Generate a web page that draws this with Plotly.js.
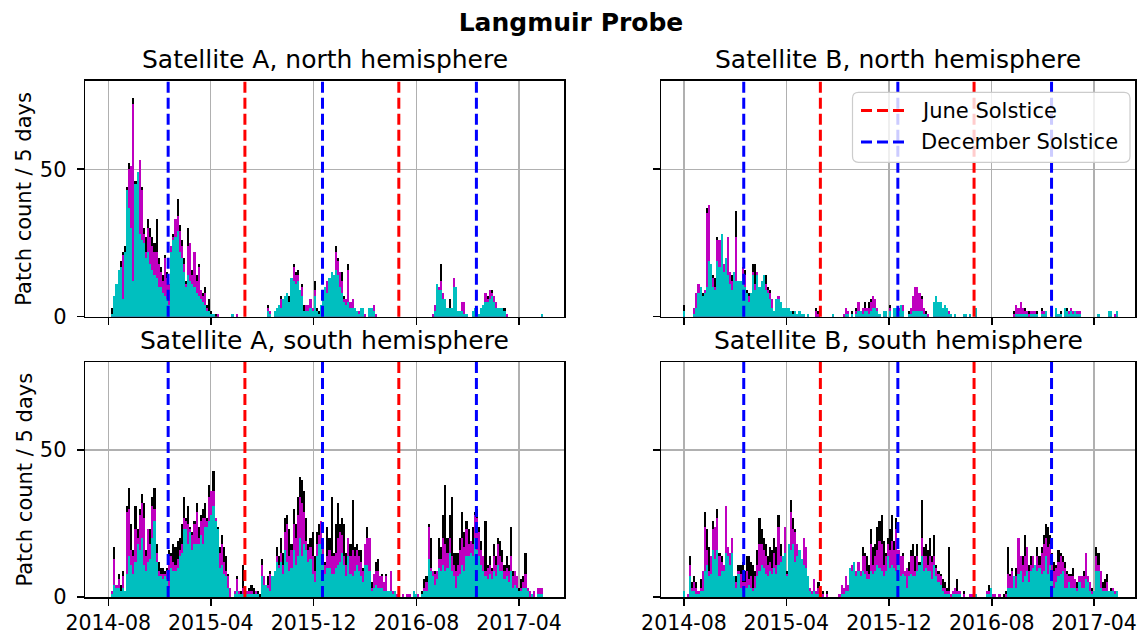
<!DOCTYPE html>
<html>
<head>
<meta charset="utf-8">
<script src="https://cdn.plot.ly/plotly-3.0.1.min.js"></script>
<style>html,body{margin:0;padding:0;background:#fff;}#chart{width:1142px;height:635px;}</style>
</head>
<body>
<div id="chart"></div>
<script>
// ---- data: patch counts per 5-day bin, bins starting 2014-07-29 ----
const binStart = '2014-07-29';
const binDays = 5;

const aNorthBlack = [
0,0,3,7,11,16,19,22,24,44,
52,51,74,46,49,53,44,30,27,33,
30,27,25,33,20,17,14,21,15,11,
24,28,33,40,31,26,20,12,30,25,
16,22,14,18,9,8,10,4,6,2,
1,1,1,0,0,0,0,0,0,1,
0,1,0,0,0,0,0,0,0,0,
0,0,0,0,0,0,4,2,0,2,
3,4,7,6,7,8,7,13,18,15,
16,9,11,4,4,4,6,3,12,3,
2,4,9,10,12,13,15,14,24,20,
15,15,7,6,18,5,6,3,2,2,
3,3,1,0,3,3,4,1,0,0,
0,0,0,0,0,0,0,0,0,0,
0,0,0,0,0,0,0,0,0,0,
0,0,0,0,1,4,11,10,18,8,
6,3,6,3,13,10,2,2,5,5,
1,0,0,2,3,3,1,3,4,8,
7,9,9,7,5,3,3,3,3,1,
0,0,0,0,0,0,0,0,0,0,
0,0,0,0,0,0,1];
const aNorthMagenta = [
0,0,1,7,11,16,17,21,22,43,
50,51,72,45,49,53,43,28,22,30,
27,24,22,22,18,15,12,20,13,11,
24,27,33,34,29,24,18,11,24,25,
14,22,12,17,9,7,8,3,2,1,
1,0,1,0,0,0,0,0,0,1,
0,1,0,0,0,0,0,0,0,0,
0,0,0,0,0,0,3,2,0,2,
3,4,6,6,7,8,5,13,17,14,
14,9,10,2,4,4,6,3,9,2,
1,4,9,10,12,13,15,14,22,19,
15,12,6,6,16,5,6,3,2,2,
3,3,1,0,3,3,4,1,0,0,
0,0,0,0,0,0,0,0,0,0,
0,0,0,0,0,0,0,0,0,0,
0,0,0,0,1,4,11,10,12,8,
6,3,3,3,13,10,2,2,5,5,
1,0,0,2,3,3,1,3,4,8,
6,9,8,7,5,3,3,3,2,1,
0,0,0,0,0,0,0,0,0,0,
0,0,0,0,0,0,1];
const aNorthCyan = [
0,0,1,7,11,16,17,6,22,43,
37,30,12,45,49,28,26,25,20,22,
18,16,14,13,10,10,8,7,6,4,
22,26,27,29,22,20,15,10,14,12,
11,10,8,7,6,5,4,2,2,1,
1,0,0,0,0,0,0,0,0,1,
0,0,0,0,0,0,0,0,0,0,
0,0,0,0,0,0,2,1,0,2,
3,4,3,6,7,8,5,13,12,11,
12,9,7,2,2,2,3,2,7,2,
1,4,6,10,8,13,15,14,16,14,
10,8,5,4,5,3,3,3,2,1,
3,3,0,0,3,3,2,0,0,0,
0,0,0,0,0,0,0,0,0,0,
0,0,0,0,0,0,0,0,0,0,
0,0,0,0,0,2,11,9,9,6,
6,3,3,3,10,10,2,2,2,1,
1,0,0,2,3,3,1,3,4,5,
5,6,7,5,3,3,3,3,2,0,
0,0,0,0,0,0,0,0,0,0,
0,0,0,0,0,0,1];

const bNorthBlack = [
4,0,0,0,0,3,8,11,10,8,
9,37,38,18,14,13,27,26,28,18,
20,27,15,14,15,36,12,12,17,16,
9,8,8,18,18,15,10,12,14,14,
10,9,6,2,6,7,5,3,3,3,
3,2,2,2,1,2,1,1,0,1,
0,0,0,3,2,0,0,0,0,0,
0,1,0,0,0,0,1,3,2,0,
2,0,3,5,2,3,5,3,5,6,
7,6,3,1,0,2,2,0,4,0,
3,3,3,4,4,0,0,2,3,7,
10,10,8,7,3,2,1,0,0,5,
7,5,5,3,4,3,2,1,0,1,
0,0,0,1,1,0,1,0,0,3,
0,0,0,0,0,0,0,0,0,0,
0,0,0,0,0,0,0,2,4,3,
5,3,3,2,2,2,2,2,2,0,
3,2,2,0,0,2,0,3,1,2,
0,3,3,2,3,2,2,2,2,0,
0,0,0,0,0,0,0,1,0,0,
0,0,2,2,0,1,2];
const bNorthMagenta = [
2,0,0,0,0,3,8,11,10,7,
9,35,38,18,13,10,26,26,28,18,
20,27,15,12,15,27,12,12,17,14,
8,7,8,15,11,15,10,12,14,11,
9,8,6,2,6,7,5,3,3,3,
3,2,1,2,1,2,1,1,0,1,
0,0,0,2,1,0,0,0,0,0,
0,1,0,0,0,0,1,3,2,0,
1,0,2,5,2,3,3,3,3,5,
7,6,3,1,0,2,2,0,3,0,
3,3,3,4,4,0,0,1,3,7,
10,10,8,6,3,1,1,0,0,5,
7,5,5,3,4,3,2,1,0,1,
0,0,0,1,1,0,1,0,0,3,
0,0,0,0,0,0,0,0,0,0,
0,0,0,0,0,0,0,1,4,3,
5,3,2,2,1,2,2,2,1,0,
2,2,2,0,0,2,0,3,1,1,
0,3,2,2,3,2,2,2,2,0,
0,0,0,0,0,0,0,1,0,0,
0,0,2,2,0,1,2];
const bNorthCyan = [
2,0,0,0,0,1,3,8,10,7,
8,10,19,18,10,9,19,17,28,15,
20,14,11,9,15,12,12,12,13,10,
8,5,8,14,9,14,10,12,14,9,
8,6,3,2,6,6,5,3,3,3,
3,2,1,2,1,2,1,1,0,1,
0,0,0,0,0,0,0,0,0,0,
0,1,0,0,0,0,0,1,1,0,
1,0,1,2,2,1,2,2,1,2,
3,3,2,1,0,2,2,0,2,0,
3,3,2,4,2,0,0,1,1,2,
2,2,2,2,1,1,0,0,0,5,
7,5,5,3,4,3,1,1,0,1,
0,0,0,1,1,0,1,0,0,3,
0,0,0,0,0,0,0,0,0,0,
0,0,0,0,0,0,0,0,1,1,
1,1,1,1,0,1,1,1,1,0,
1,1,2,0,0,2,0,3,1,1,
0,3,2,1,2,1,2,1,1,0,
0,0,0,0,0,0,0,1,0,0,
0,0,2,2,0,0,2];

const aSouthBlack = [
0,0,2,17,4,8,4,9,2,31,
37,25,16,31,23,30,35,32,16,23,
23,34,37,18,12,10,10,9,10,16,
15,18,17,19,20,25,34,27,31,24,
22,26,32,24,28,30,32,27,38,36,
43,27,24,17,21,17,14,8,3,0,
2,7,2,2,11,3,2,3,4,3,
2,2,1,13,7,4,7,9,7,9,
17,14,20,15,27,28,23,18,30,25,
34,41,40,36,27,18,20,22,14,22,
25,26,18,12,24,20,34,15,25,32,
25,27,25,15,20,18,33,17,18,16,
16,10,18,24,20,5,8,12,13,7,
8,5,8,2,9,2,2,1,1,0,
1,0,1,1,0,2,1,1,0,2,
6,7,25,20,9,9,9,20,17,28,
38,20,28,34,15,15,15,20,29,22,
26,23,19,24,29,30,24,19,14,26,
11,14,10,18,14,20,19,16,11,14,
11,24,9,9,7,3,6,7,15,3,
2,1,2,0,3,3,3];
const aSouthMagenta = [
0,0,2,13,4,6,2,7,2,29,
30,16,14,23,20,28,32,27,14,23,
18,31,30,15,9,8,8,8,9,14,
14,12,11,13,16,18,27,26,25,23,
21,25,29,20,26,27,27,26,34,36,
36,27,23,15,18,12,9,7,3,0,
2,6,2,1,3,3,2,2,2,1,
2,1,0,11,7,4,4,8,7,9,
14,11,15,11,22,25,14,16,25,20,
28,34,32,29,19,16,17,14,9,18,
21,26,17,11,14,16,14,14,15,20,
22,21,14,11,20,14,16,14,16,14,
12,9,18,20,20,3,8,9,9,7,
7,5,7,2,9,2,2,1,1,0,
1,0,1,1,0,2,1,1,0,1,
3,5,24,10,9,8,9,13,13,20,
18,15,20,14,11,9,11,16,20,17,
23,18,19,18,28,27,22,16,14,9,
10,11,9,14,11,18,14,12,9,10,
9,14,7,9,7,2,3,5,8,3,
2,1,2,0,3,3,3];
const aSouthCyan = [
0,0,1,4,3,3,2,3,2,8,
14,11,8,12,18,16,20,11,9,12,
13,20,26,12,7,7,6,7,6,3,
10,9,9,10,14,15,23,23,18,22,
16,18,18,18,21,18,24,24,26,28,
31,26,23,10,11,8,7,3,0,0,
1,2,1,1,1,1,1,1,1,1,
1,1,0,7,4,4,3,2,7,9,
12,10,12,8,16,12,9,10,16,11,
14,20,14,18,16,12,13,8,5,14,
18,18,12,8,10,10,8,8,10,11,
12,15,11,7,14,8,7,9,11,9,
7,5,11,11,9,2,3,4,3,3,
3,2,2,2,2,1,2,0,0,0,
0,0,0,0,0,2,1,0,0,1,
2,2,13,9,7,4,6,10,9,11,
9,10,15,9,7,3,7,8,11,9,
14,14,15,14,20,16,14,11,9,7,
6,8,6,9,7,11,9,9,6,7,
5,9,3,4,3,2,2,3,3,2,
0,1,0,0,1,1,1];

const bSouthBlack = [
2,0,1,14,5,7,5,2,6,9,
29,23,17,14,26,24,30,15,14,11,
31,17,15,20,7,7,11,11,12,9,
14,14,12,11,9,16,27,23,20,18,
14,17,16,20,17,28,18,14,24,9,
18,33,27,23,18,16,13,20,17,7,
3,2,6,2,5,1,2,0,2,0,
0,0,0,0,1,4,3,7,4,10,
11,12,9,12,9,17,15,14,11,23,
17,18,24,26,28,19,15,20,23,28,
19,27,16,14,15,9,10,12,16,18,
14,18,12,33,17,18,16,20,14,21,
11,9,8,6,5,3,17,1,2,3,
6,2,0,2,0,0,1,1,0,1,
0,0,0,0,2,4,3,1,1,0,
1,0,1,2,17,8,10,7,10,20,
14,14,21,17,11,14,14,11,17,14,
17,21,25,24,21,15,12,11,16,15,
14,12,9,8,8,10,6,5,7,7,
9,15,7,5,3,2,17,15,9,5,
6,8,2,3,3,2,2];
const bSouthMagenta = [
2,0,1,11,3,5,3,2,3,9,
24,16,9,14,23,24,27,14,12,11,
31,17,15,20,7,5,9,8,5,5,
9,6,7,3,7,11,18,18,16,14,
11,12,10,15,11,24,14,14,24,8,
18,29,23,22,18,16,13,20,17,7,
3,2,6,2,3,1,1,0,1,0,
0,0,0,0,1,4,3,7,4,10,
11,12,9,12,9,14,14,9,8,18,
11,14,16,19,18,11,14,18,16,19,
16,23,16,14,14,9,10,9,14,14,
9,14,11,20,14,14,11,14,12,14,
10,8,7,3,3,2,2,1,2,3,
2,2,0,1,0,0,1,1,0,1,
0,0,0,0,2,2,3,1,1,0,
1,0,0,1,8,7,9,7,7,20,
14,11,14,17,9,11,14,11,14,11,
15,18,20,17,18,14,9,10,12,14,
12,10,8,7,7,7,6,3,7,7,
7,15,7,5,2,2,14,11,9,3,
3,5,2,2,3,2,2];
const bSouthCyan = [
2,0,0,7,2,2,1,1,2,2,
9,11,7,8,16,13,16,7,9,9,
15,14,11,15,7,3,8,3,2,3,
3,4,3,2,3,7,9,11,10,8,
7,9,8,10,8,11,12,14,15,7,
18,16,18,12,14,16,13,11,10,7,
2,1,2,1,1,0,0,0,0,0,
0,0,0,0,0,1,1,2,2,10,
9,12,7,9,7,9,8,6,6,9,
8,9,11,10,9,7,9,14,10,11,
10,9,11,7,8,7,3,7,8,7,
7,9,11,14,9,10,9,9,6,11,
7,5,4,2,1,1,1,0,1,1,
1,1,0,0,0,0,0,0,0,1,
0,0,0,0,1,1,3,0,0,0,
0,0,0,0,3,3,3,7,3,8,
9,5,7,9,5,9,10,11,9,10,
8,9,14,8,11,7,3,5,7,8,
9,3,3,5,3,3,3,2,5,3,
3,6,5,2,1,2,9,9,3,2,
2,2,2,2,2,1,2];

const juneSolstices = ['2015-06-21', '2016-06-20'];
const decemberSolstices = ['2014-12-21', '2015-12-22', '2016-12-21'];
const tickDates = ['2014-08-01', '2015-04-01', '2015-12-01', '2016-08-01', '2017-04-01'];
const tickLabels = ['2014-08', '2015-04', '2015-12', '2016-08', '2017-04'];
const panelTitles = ['Satellite A, north hemisphere', 'Satellite B, north hemisphere',
                     'Satellite A, south hemisphere', 'Satellite B, south hemisphere'];
const legendLabels = ['June Solstice', 'December Solstice'];

// ---- build ----
const FONT = 'DejaVu Sans';
const W = 1142, H = 635;
const DAY = 864e5;
const t0 = Date.parse(binStart + 'T00:00:00Z');
function centers(n) {
  const out = [];
  for (let i = 0; i < n; i++) out.push(new Date(t0 + (i * binDays + binDays / 2) * DAY).toISOString());
  return out;
}

const panels = [
  {n: '',  vals: [aNorthBlack, aNorthMagenta, aNorthCyan]},
  {n: '2', vals: [bNorthBlack, bNorthMagenta, bNorthCyan]},
  {n: '3', vals: [aSouthBlack, aSouthMagenta, aSouthCyan]},
  {n: '4', vals: [bSouthBlack, bSouthMagenta, bSouthCyan]}
];
const colors = ['#000000', '#bf00bf', '#00bfbf'];
const RED = '#ff0000', BLUE = '#0000ff';
const DASH = '11px,5px';

const traces = [];
panels.forEach(p => {
  p.vals.forEach((arr, k) => {
    traces.push({
      type: 'bar', x: centers(arr.length), y: arr,
      width: binDays * DAY,
      marker: {color: colors[k], line: {width: 0}},
      xaxis: 'x' + p.n, yaxis: 'y' + p.n,
      showlegend: false, hoverinfo: 'skip'
    });
  });
});

const px2x = v => v / W;
const px2y = v => 1 - v / H;
const xLeft = [px2x(85.3), px2x(564.3)];
const xRight = [px2x(661), px2x(1135)];
const yTop = [px2y(316.7), px2y(80.7)];
const yBot = [px2y(597), px2y(362)];

function xax(domain, range, labels) {
  return {
    domain: domain, type: 'date', range: range,
    tickmode: 'array', tickvals: tickDates, ticktext: tickLabels,
    showticklabels: labels, ticks: 'outside', ticklen: 7, tickwidth: 1.5, tickcolor: '#000',
    showgrid: true, gridcolor: '#b0b0b0', gridwidth: 1.3,
    showline: true, mirror: true, linecolor: '#000', linewidth: 1.5,
    zeroline: false, fixedrange: true,
    tickfont: {family: FONT, size: 20.5, color: '#000'}
  };
}
function yax(domain, labels, anchor) {
  return {
    domain: domain, range: [0, 80], anchor: anchor,
    tickmode: 'array', tickvals: [0, 50],
    showticklabels: labels, ticks: 'outside', ticklen: 7, tickwidth: 1.5, tickcolor: '#000',
    ticklabelstandoff: 6,
    showgrid: true, gridcolor: '#b0b0b0', gridwidth: 1.3,
    showline: true, mirror: true, linecolor: '#000', linewidth: 1.5,
    zeroline: false, fixedrange: true,
    tickfont: {family: FONT, size: 21, color: '#000'}
  };
}
const rangeL = ['2014-06-07 12:00', '2017-07-17 10:00'];
const rangeR = ['2014-06-07 12:00', '2017-07-07 05:00'];

const shapes = [];
panels.forEach(p => {
  juneSolstices.forEach(d => {
    shapes.push({type: 'line', xref: 'x' + p.n, yref: 'y' + p.n + ' domain', x0: d, x1: d, y0: 0, y1: 1,
      line: {color: RED, width: 3, dash: DASH}, layer: 'above'});
  });
  decemberSolstices.forEach(d => {
    shapes.push({type: 'line', xref: 'x' + p.n, yref: 'y' + p.n + ' domain', x0: d, x1: d, y0: 0, y1: 1,
      line: {color: BLUE, width: 3, dash: DASH}, layer: 'above'});
  });
});

// legend box (matplotlib style, rounded corners)
const L = {x0: 852.5, x1: 1130, y0: 92.3, y1: 162.3, r: 6};
const bx = v => px2x(v), by = v => px2y(v);
const legPath = 'M' + bx(L.x0 + L.r) + ',' + by(L.y0) +
  ' L' + bx(L.x1 - L.r) + ',' + by(L.y0) +
  ' Q' + bx(L.x1) + ',' + by(L.y0) + ' ' + bx(L.x1) + ',' + by(L.y0 + L.r) +
  ' L' + bx(L.x1) + ',' + by(L.y1 - L.r) +
  ' Q' + bx(L.x1) + ',' + by(L.y1) + ' ' + bx(L.x1 - L.r) + ',' + by(L.y1) +
  ' L' + bx(L.x0 + L.r) + ',' + by(L.y1) +
  ' Q' + bx(L.x0) + ',' + by(L.y1) + ' ' + bx(L.x0) + ',' + by(L.y1 - L.r) +
  ' L' + bx(L.x0) + ',' + by(L.y0 + L.r) +
  ' Q' + bx(L.x0) + ',' + by(L.y0) + ' ' + bx(L.x0 + L.r) + ',' + by(L.y0) + ' Z';
shapes.push({type: 'path', xref: 'paper', yref: 'paper', path: legPath,
  fillcolor: 'rgba(255,255,255,0.8)', line: {color: '#cccccc', width: 1.2}, layer: 'above'});
const legRows = [110.5, 142];
const legColors = [RED, BLUE];
legRows.forEach((yy, i) => {
  shapes.push({type: 'line', xref: 'paper', yref: 'paper', x0: bx(861), x1: bx(904), y0: by(yy), y1: by(yy),
    line: {color: legColors[i], width: 3, dash: DASH}, layer: 'above'});
});

const doms = [[xLeft, yTop], [xRight, yTop], [xLeft, yBot], [xRight, yBot]];
const annotations = [];
panelTitles.forEach((t, i) => {
  const [dx, dy] = doms[i];
  annotations.push({text: t, xref: 'paper', yref: 'paper', x: (dx[0] + dx[1]) / 2, y: dy[1],
    xanchor: 'center', yanchor: 'bottom', yshift: 5, showarrow: false,
    font: {family: FONT, size: 25, color: '#000'}});
});
[yTop, yBot].forEach(dy => {
  annotations.push({text: 'Patch count / 5 days', xref: 'paper', yref: 'paper', x: px2x(24), y: (dy[0] + dy[1]) / 2,
    xanchor: 'center', yanchor: 'middle', textangle: -90, showarrow: false,
    font: {family: FONT, size: 21, color: '#000'}});
});
legendLabels.forEach((t, i) => {
  annotations.push({text: t, xref: 'paper', yref: 'paper', x: bx(919), y: by(legRows[i]),
    xanchor: 'left', yanchor: 'middle', showarrow: false,
    font: {family: FONT, size: 21, color: '#000'}});
});

const layout = {
  width: W, height: H,
  margin: {l: 0, r: 0, t: 0, b: 0},
  paper_bgcolor: '#fff', plot_bgcolor: '#fff',
  barmode: 'overlay', bargap: 0,
  title: {text: '<b>Langmuir Probe</b>', x: 0.5, xanchor: 'center', y: px2y(22), yanchor: 'middle',
          font: {family: FONT, size: 25, color: '#000'}},
  xaxis: xax(xLeft, rangeL, false),  yaxis: yax(yTop, true, 'x'),
  xaxis2: xax(xRight, rangeR, false), yaxis2: yax(yTop, false, 'x2'),
  xaxis3: xax(xLeft, rangeL, true),  yaxis3: yax(yBot, true, 'x3'),
  xaxis4: xax(xRight, rangeR, true), yaxis4: yax(yBot, false, 'x4'),
  showlegend: false,
  shapes: shapes, annotations: annotations, hovermode: false
};
layout.xaxis.anchor = 'y'; layout.xaxis2.anchor = 'y2'; layout.xaxis3.anchor = 'y3'; layout.xaxis4.anchor = 'y4';

Plotly.newPlot('chart', traces, layout, {displayModeBar: false, staticPlot: true});
</script>
</body>
</html>
